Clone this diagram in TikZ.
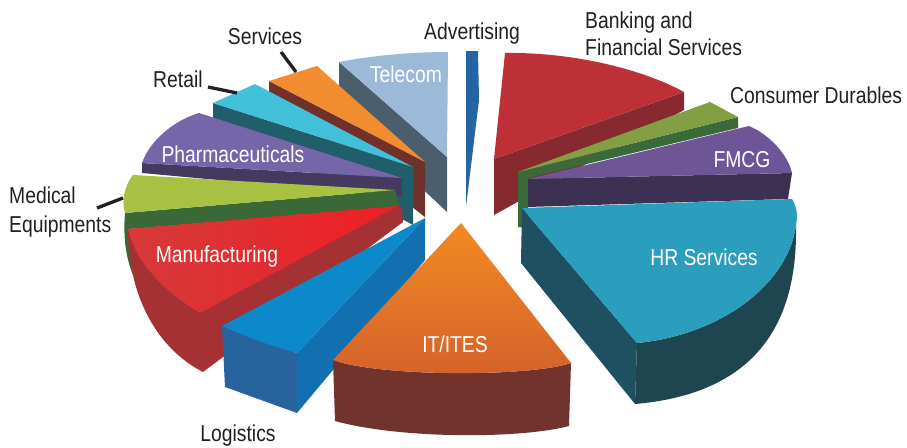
\documentclass[tikz,border=0pt]{standalone}
\usepackage{fontspec}
\setmainfont{Liberation Sans}[FakeStretch=0.84]
\definecolor{ink}{HTML}{231F20}
\definecolor{advC}{HTML}{2566A2}
\definecolor{telTop}{HTML}{9DB9D8}
\definecolor{telSide}{HTML}{4A5E6E}
\definecolor{bankTop}{HTML}{BC3036}
\definecolor{bankSide}{HTML}{862A30}
\definecolor{svcTop}{HTML}{F28C30}
\definecolor{svcSide}{HTML}{70312B}
\definecolor{retTop}{HTML}{42C0DA}
\definecolor{retSide}{HTML}{1F5E6A}
\definecolor{cdTop}{HTML}{82A043}
\definecolor{cdSide}{HTML}{3A6A3A}
\definecolor{phTop}{HTML}{7565A9}
\definecolor{phSide}{HTML}{45395F}
\definecolor{fmTop}{HTML}{6E5597}
\definecolor{fmSide}{HTML}{3C3152}
\definecolor{medTop}{HTML}{A9C142}
\definecolor{medSide}{HTML}{3A6839}
\definecolor{mfL}{HTML}{D63A3A}
\definecolor{mfR}{HTML}{EE1F25}
\definecolor{mfSide}{HTML}{A53134}
\definecolor{hrTop}{HTML}{2A9EBC}
\definecolor{hrRad}{HTML}{1E5062}
\definecolor{hrOut}{HTML}{1F4650}
\definecolor{loTop}{HTML}{0C89CA}
\definecolor{loRad}{HTML}{1370B0}
\definecolor{loOut}{HTML}{27639C}
\definecolor{itT}{HTML}{F28A22}
\definecolor{itB}{HTML}{D4622C}
\definecolor{itSide}{HTML}{71332E}
\begin{document}
\begin{tikzpicture}[x=1pt,y=-1pt,
  lbl/.style={font=\fontsize{23}{28}\selectfont, text=ink, inner sep=0pt, anchor=base},
  lblw/.style={lbl, text=white},
  lblL/.style={lbl, anchor=base west},
  leader/.style={draw=ink, line width=3.3pt}]
\useasboundingbox (0,0) rectangle (907,447);
% Advertising
\fill[advC] (466,51) -- (478,51) -- (479,100) -- (466,207) -- cycle;
% Telecom
\fill[telSide] (339,62) -- (447,157) -- (447,212) -- (339,110) -- cycle;
\fill[telTop] (339,62) .. controls (375,55) and (415,52) .. (448,52) -- (447,157) -- cycle;
% Banking
\fill[bankSide] (494,159) -- (684,92) -- (684,110) -- (494,215) -- cycle;
\fill[bankTop] (505,53) .. controls (570,52) and (640,68) .. (684,92) -- (494,159) -- cycle;
% Services
\fill[svcSide] (269,81) -- (425,162) -- (425,217) -- (269,95) -- cycle;
\fill[svcTop] (269,81) -- (317,66) -- (425,162) -- cycle;
% Retail
\fill[retSide] (213,103) -- (413,167) -- (413,225) -- (213,118) -- cycle;
\fill[retTop] (213,103) -- (255,84) -- (413,167) -- cycle;
% Consumer Durables
\fill[cdSide] (518,172) -- (738,117) -- (738,128) -- (528,178) -- (528,227) -- (518,227) -- cycle;
\fill[cdTop] (518,172) -- (710,102) -- (738,117) -- cycle;
% Pharmaceuticals
\fill[phSide] (142,163) -- (402,178) -- (402,197) -- (142,173) -- cycle;
\fill[phTop] (199,113) -- (402,178) -- (142,163) .. controls (150,140) and (175,120) .. (199,113) -- cycle;
% FMCG
\fill[fmSide] (528,179) -- (792,173) -- (788,199) -- (528,207) -- cycle;
\fill[fmTop] (528,179) -- (749,126) .. controls (770,135) and (788,155) .. (792,173) -- cycle;
% Medical Equipments
\fill[medSide] (125,213) -- (395,190) -- (400,207) -- (128,229) -- (133,275) .. controls (126,258) and (123,238) .. (125,213) -- cycle;
\fill[medTop] (133,175) -- (395,190) -- (125,213) .. controls (121,200) and (125,185) .. (133,175) -- cycle;
% Manufacturing
\fill[mfSide] (128,229) .. controls (128,300) and (160,350) .. (203,372) -- (403,222) -- (402,207) -- (398,206) -- cycle;
\shade[left color=mfL, right color=mfR] (128,229) -- (398,206) -- (200,313) .. controls (165,292) and (135,262) .. (128,229) -- cycle;
% HR Services
\fill[hrRad] (522,208) -- (637,343) -- (635,404) -- (521,263) -- cycle;
\fill[hrOut] (796,225) .. controls (788,285) and (720,335) .. (637,343) -- (635,404) .. controls (740,395) and (795,340) .. (796,235) -- cycle;
\fill[hrTop] (522,208) -- (792,199) .. controls (797,207) and (798,216) .. (796,225) .. controls (788,285) and (720,335) .. (637,343) -- cycle;
% Logistics
\fill[loOut] (222,326) -- (297,353) -- (297,413) -- (225,387) -- cycle;
\fill[loRad] (297,353) -- (425,218) -- (425,260) -- (297,413) -- cycle;
\fill[loTop] (222,326) -- (425,218) -- (297,353) .. controls (270,346) and (245,336) .. (222,326) -- cycle;
% IT/ITES
\fill[itSide] (333,360) .. controls (380,377) and (530,377) .. (571,363) -- (569,426) .. controls (520,439) and (400,439) .. (335,421) -- cycle;
\shade[top color=itT, bottom color=itB] (461,223) -- (571,363) .. controls (530,377) and (380,377) .. (333,360) -- cycle;
% labels inside
\node[lblw] (telecom) at (406,82) {Telecom};
\node[lblw] (fmcg) at (742,167) {FMCG};
\node[lblw] (hr) at (704,265) {HR Services};
\node[lblw] (it) at (455,352) {IT/ITES};
\node[lblw] (mf) at (217,262) {Manufacturing};
\node[lblw] (ph) at (233,162) {Pharmaceuticals};
% labels outside
\node[lbl] (adv) at (472,39) {Advertising};
\node[lblL] (bank1) at (585,28) {Banking and};
\node[lblL] (bank2) at (585,55) {Financial Services};
\node[lblL] (cd) at (730,103) {Consumer Durables};
\node[lbl] (svc) at (265,44) {Services};
\node[lblL] (ret) at (153,87) {Retail};
\node[lblL] (med1) at (9,203) {Medical};
\node[lblL] (med2) at (9,232) {Equipments};
\node[lbl] (log) at (238,441) {Logistics};
% leader lines
\coordinate (svcA) at (281,52);
\coordinate (svcB) at (296,72);
\coordinate (retA) at (208,87);
\coordinate (retB) at (237,93);
\coordinate (medA) at (97,208);
\coordinate (medB) at (123,198);
\draw[leader] (svcA) -- (svcB);
\draw[leader] (retA) -- (retB);
\draw[leader] (medA) -- (medB);
\end{tikzpicture}
\end{document}
